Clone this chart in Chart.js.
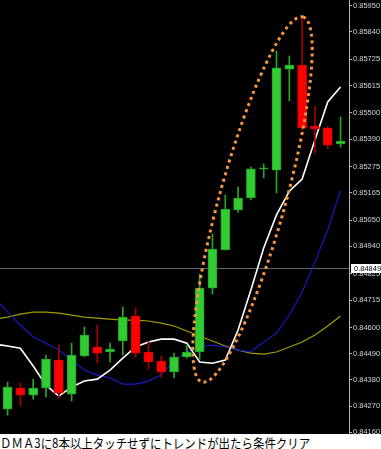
<!DOCTYPE html>
<html>
<head>
<meta charset="utf-8">
<script src="https://cdn.jsdelivr.net/npm/chart.js@4.4.1/dist/chart.umd.min.js"></script>
<style>
  html, body { margin: 0; padding: 0; background: #fff; }
  #wrap { position: relative; width: 381px; height: 434px; background: #000; }
  #caption { width: 381px; height: 15px; overflow: hidden; white-space: nowrap; }
  #caption span {
    display: inline-block;
    font-family: "Noto Sans CJK JP", sans-serif;
    font-size: 13px;
    line-height: 15px;
    color: #000;
    transform: scaleX(0.88);
    transform-origin: left top;
  }
</style>
</head>
<body>
<div id="wrap"><canvas id="chart"></canvas></div>
<div id="caption"><span>ＤＭＡ3に8本以上タッチせずにトレンドが出たら条件クリア</span></div>
<script>
// ローソク足 (27本)
const opens  = [0.84257, 0.84346, 0.84316, 0.84346, 0.84463, 0.84320, 0.84480, 0.84518, 0.84497, 0.84543, 0.84648, 0.84497, 0.84459, 0.84413, 0.84476, 0.84497, 0.84765, 0.84925, 0.85093, 0.85143, 0.85265, 0.85260, 0.85684, 0.85701, 0.85445, 0.85437, 0.85370];
const highs  = [0.84371, 0.84367, 0.84383, 0.84484, 0.84526, 0.84534, 0.84602, 0.84610, 0.84534, 0.84685, 0.84681, 0.84543, 0.84480, 0.84492, 0.84526, 0.84824, 0.84992, 0.85156, 0.85189, 0.85273, 0.85286, 0.85760, 0.85739, 0.85898, 0.85529, 0.85445, 0.85483];
const lows   = [0.84232, 0.84270, 0.84299, 0.84308, 0.84304, 0.84291, 0.84476, 0.84450, 0.84455, 0.84484, 0.84476, 0.84425, 0.84392, 0.84388, 0.84471, 0.84467, 0.84740, 0.84925, 0.85084, 0.85135, 0.85227, 0.85164, 0.85550, 0.85428, 0.85332, 0.85349, 0.85357];
const closes = [0.84350, 0.84316, 0.84346, 0.84467, 0.84325, 0.84484, 0.84568, 0.84492, 0.84509, 0.84644, 0.84492, 0.84455, 0.84413, 0.84476, 0.84497, 0.84765, 0.84929, 0.85097, 0.85143, 0.85265, 0.85267, 0.85689, 0.85701, 0.85437, 0.85433, 0.85365, 0.85382];

// 移動平均 (先頭は画面外の1本前)
const dmaFast = [0.84530, 0.84522, 0.84513, 0.84438, 0.84358, 0.84312, 0.84350, 0.84375, 0.84383, 0.84421, 0.84471, 0.84518, 0.84539, 0.84551, 0.84551, 0.84534, 0.84455, 0.84450, 0.84463, 0.84589, 0.84757, 0.84933, 0.85072, 0.85172, 0.85223, 0.85386, 0.85546, 0.85609];
const dmaMid  = [0.84723, 0.84664, 0.84610, 0.84560, 0.84534, 0.84505, 0.84463, 0.84421, 0.84400, 0.84388, 0.84362, 0.84362, 0.84375, 0.84400, 0.84463, 0.84497, 0.84518, 0.84526, 0.84518, 0.84505, 0.84497, 0.84539, 0.84576, 0.84652, 0.84748, 0.84874, 0.85009, 0.85176];
const dmaSlow = [0.84635, 0.84643, 0.84656, 0.84664, 0.84664, 0.84660, 0.84652, 0.84643, 0.84639, 0.84635, 0.84631, 0.84631, 0.84627, 0.84618, 0.84606, 0.84585, 0.84564, 0.84543, 0.84522, 0.84505, 0.84492, 0.84488, 0.84497, 0.84518, 0.84539, 0.84568, 0.84606, 0.84648];

// 価格軸
const yTickLabels = ["0.85950", "0.85840", "0.85725", "0.85615", "0.85500", "0.85390", "0.85275", "0.85165", "0.85050", "0.84940", "0.84825", "0.84715", "0.84600", "0.84490", "0.84380", "0.84270", "0.84160"];
const currentPrice = 0.84849;

const GREEN = "#32cd32";
const RED = "#ff0000";
const isUp = (i) => closes[i] >= opens[i];

const bodies = opens.map((o, i) => ({ x: i, y: [o, closes[i]] }));
const wicks = lows.map((l, i) => ({ x: i, y: [l, highs[i]] }));
const maPoints = (arr) => arr.map((v, i) => ({ x: i - 1, y: v }));

// 楕円の囲み (バー番号, 価格)
const ellipseMark = { from: [15.18, 0.84371], to: [23.07, 0.85903], halfWidth: 33 };

const ellipsePlugin = {
  id: "ellipse",
  afterDatasetsDraw(chart) {
    const { ctx, scales } = chart;
    const x1 = scales.x.getPixelForValue(ellipseMark.from[0]);
    const y1 = scales.y.getPixelForValue(ellipseMark.from[1]);
    const x2 = scales.x.getPixelForValue(ellipseMark.to[0]);
    const y2 = scales.y.getPixelForValue(ellipseMark.to[1]);
    const a = Math.hypot(x2 - x1, y2 - y1) / 2;
    ctx.save();
    ctx.beginPath();
    ctx.ellipse((x1 + x2) / 2, (y1 + y2) / 2, a, ellipseMark.halfWidth, Math.atan2(y2 - y1, x2 - x1), 0, Math.PI * 2);
    ctx.setLineDash([3, 3.6]);
    ctx.lineWidth = 3;
    ctx.strokeStyle = "#f7963c";
    ctx.stroke();
    ctx.restore();
  },
};

const priceLinePlugin = {
  id: "priceLine",
  beforeDatasetsDraw(chart) {
    const { ctx, chartArea, scales } = chart;
    const y = Math.round(scales.y.getPixelForValue(currentPrice)) + 0.5;
    ctx.save();
    ctx.strokeStyle = "#5a6678";
    ctx.lineWidth = 1;
    ctx.beginPath();
    ctx.moveTo(chartArea.left, y);
    ctx.lineTo(chartArea.right, y);
    ctx.stroke();
    ctx.restore();
  },
  afterDraw(chart) {
    const { ctx, chartArea, scales } = chart;
    const y = Math.round(scales.y.getPixelForValue(currentPrice));
    ctx.save();
    ctx.fillStyle = "#fff";
    ctx.fillRect(chartArea.right + 2, y - 4, chart.width - chartArea.right - 2, 9);
    ctx.fillStyle = "#000";
    ctx.font = "7.5px 'Liberation Sans'";
    ctx.textBaseline = "middle";
    ctx.fillText(currentPrice.toFixed(5), chartArea.right + 5, y + 0.5);
    ctx.restore();
  },
};

new Chart(document.getElementById("chart"), {
  type: "bar",
  data: {
    datasets: [
      {
        type: "bar",
        data: bodies,
        backgroundColor: opens.map((o, i) => (isUp(i) ? GREEN : RED)),
        borderColor: opens.map((o, i) => (isUp(i) ? "#23a023" : "#e00000")),
        borderWidth: 1,
        borderSkipped: false,
        barThickness: 9,
        minBarLength: 1,
        grouped: false,
        order: 0,
      },
      {
        type: "bar",
        data: wicks,
        backgroundColor: opens.map((o, i) => (isUp(i) ? "#2aa52a" : "#a80000")),
        borderWidth: 0,
        barThickness: 1,
        grouped: false,
        order: 1,
      },
      {
        type: "line",
        data: maPoints(dmaFast),
        borderColor: "#ffffff",
        borderWidth: 1.6,
        pointRadius: 0,
        order: 2,
      },
      {
        type: "line",
        data: maPoints(dmaMid),
        borderColor: "#1818c8",
        borderWidth: 1.2,
        pointRadius: 0,
        order: 2,
      },
      {
        type: "line",
        data: maPoints(dmaSlow),
        borderColor: "#a39c00",
        borderWidth: 1.2,
        pointRadius: 0,
        order: 2,
      },
    ],
  },
  options: {
    responsive: true,
    maintainAspectRatio: false,
    animation: false,
    layout: { padding: 0 },
    plugins: {
      legend: { display: false },
      tooltip: { enabled: false },
    },
    scales: {
      x: {
        type: "linear",
        min: -0.59,
        max: 26.66,
        offset: false,
        display: false,
      },
      y: {
        position: "right",
        min: 0.841529,
        max: 0.859739,
        border: { display: true, color: "#b4b4b4" },
        grid: { drawOnChartArea: false, drawTicks: true, tickLength: 3, color: "#b4b4b4" },
        ticks: {
          color: "#d4d4d4",
          padding: 1,
          font: { family: "'Liberation Sans'", size: 7.5 },
          callback: (v) => v.toFixed(5),
        },
        afterBuildTicks: (scale) => {
          scale.ticks = yTickLabels.map((t) => ({ value: parseFloat(t) }));
        },
        afterFit: (scale) => {
          scale.width = 32;
          scale.paddingTop = 0;
          scale.paddingBottom = 0;
        },
      },
    },
  },
  plugins: [priceLinePlugin, ellipsePlugin],
});
</script>
</body>
</html>
